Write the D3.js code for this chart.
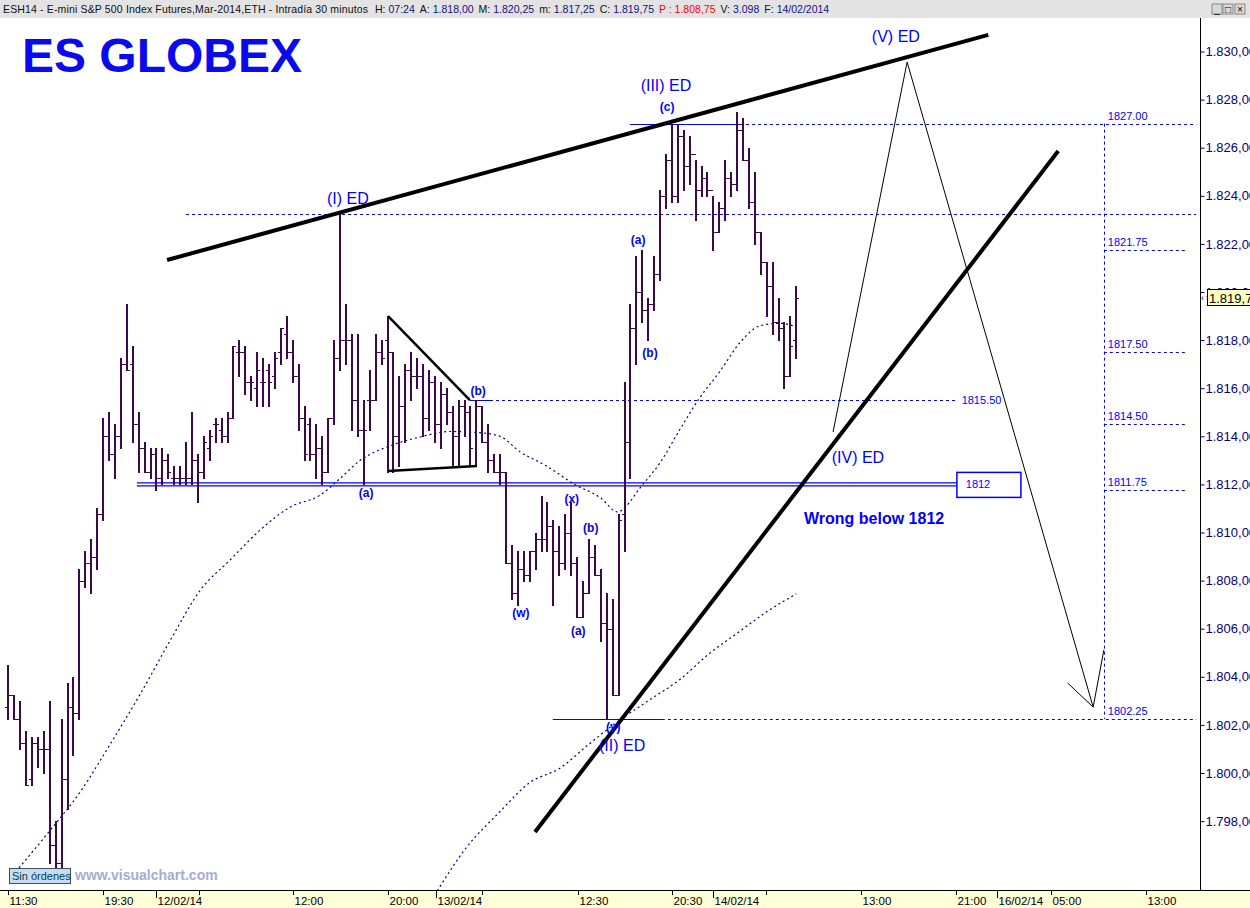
<!DOCTYPE html>
<html><head><meta charset="utf-8">
<script src="https://cdn.jsdelivr.net/npm/d3@7"></script>
<style>body{margin:0;background:#fff;overflow:hidden}svg{display:block}</style>
</head><body><svg id="c" width="1250" height="908"></svg>
<script>
// ---------- DATA ----------
const opens  = [1802.75,1803.25,1802.25,1801.25,1799.75,1801.25,1801.0,1801.0,1797.0,1796.25,1799.75,1802.75,1802.5,1808.0,1808.75,1809.0,1810.75,1814.0,1813.25,1814.0,1817.0,1817.0,1814.5,1813.5,1812.5,1813.25,1812.25,1813.0,1812.25,1812.25,1812.25,1812.25,1813.0,1812.5,1813.5,1814.5,1814.25,1814.0,1814.75,1817.5,1817.5,1816.25,1816.0,1816.25,1816.75,1816.5,1817.5,1818.25,1817.5,1816.5,1814.75,1814.5,1813.25,1813.5,1812.5,1814.75,1817.25,1818.0,1818.0,1815.5,1814.25,1815.5,1815.5,1817.5,1818.0,1817.5,1814.0,1815.25,1816.75,1816.5,1816.5,1814.75,1816.25,1814.5,1815.75,1815.0,1814.0,1815.25,1815.0,1815.5,1815.25,1813.75,1813.0,1812.5,1812.5,1808.75,1807.5,1808.5,1808.25,1809.25,1809.75,1809.75,1810.25,1809.25,1808.75,1810.0,1808.75,1806.5,1807.5,1809.0,1808.25,1806.25,1806.0,1803.25,1810.75,1813.75,1818.5,1820.0,1819.25,1819.5,1820.75,1824.0,1825.5,1824.0,1826.5,1825.25,1825.75,1824.25,1824.75,1824.25,1822.5,1823.5,1824.75,1824.5,1826.75,1825.5,1823.75,1822.5,1821.25,1820.25,1818.75,1818.5,1816.5,1818.0];
const highs  = [1804.5,1803.25,1803.0,1801.75,1801.5,1801.5,1801.75,1803.0,1798.0,1802.25,1803.75,1804.0,1808.5,1809.25,1809.75,1811.0,1814.75,1815.0,1814.5,1817.25,1819.5,1817.75,1815.0,1813.75,1813.5,1813.5,1813.5,1813.25,1812.75,1812.75,1813.75,1815.0,1813.25,1814.0,1814.25,1814.75,1814.75,1815.0,1817.75,1818.0,1817.75,1816.5,1817.5,1817.25,1817.0,1817.5,1818.5,1819.0,1818.0,1817.0,1815.25,1814.75,1814.5,1814.0,1814.75,1818.0,1823.25,1819.5,1818.25,1818.25,1815.5,1816.75,1818.25,1818.0,1819.0,1817.5,1816.5,1817.0,1817.5,1817.25,1817.0,1816.75,1816.5,1816.25,1816.0,1815.25,1815.5,1815.5,1815.25,1815.5,1815.25,1814.5,1813.25,1813.25,1812.5,1809.5,1809.25,1809.25,1809.25,1810.0,1811.5,1811.25,1810.5,1810.25,1810.75,1811.25,1809.0,1808.0,1809.75,1809.5,1808.5,1807.5,1807.25,1810.75,1816.25,1819.5,1821.5,1821.75,1819.75,1821.5,1824.25,1825.75,1827.0,1827.0,1826.75,1826.5,1825.5,1825.25,1825.0,1824.0,1823.75,1825.5,1825.0,1827.5,1827.25,1826.0,1825.0,1822.5,1821.25,1821.25,1819.75,1818.75,1819.0,1820.25];
const lows   = [1802.25,1802.25,1801.0,1799.5,1799.5,1800.25,1800.0,1796.25,1796.0,1796.0,1798.5,1800.75,1802.25,1807.75,1807.5,1808.5,1810.5,1813.0,1812.25,1813.5,1816.75,1813.75,1812.5,1812.5,1812.25,1811.75,1812.0,1812.25,1812.0,1812.0,1812.0,1812.0,1811.25,1812.25,1813.0,1813.75,1813.75,1813.75,1814.75,1816.5,1815.75,1815.5,1815.25,1815.25,1815.25,1816.0,1817.0,1817.25,1816.25,1814.25,1813.0,1813.0,1812.25,1812.0,1812.5,1814.5,1816.75,1817.0,1814.25,1814.0,1812.0,1814.25,1815.5,1817.0,1812.5,1812.5,1812.75,1813.75,1815.5,1816.0,1814.0,1814.25,1813.75,1813.5,1814.5,1812.75,1812.75,1814.0,1812.75,1812.75,1813.75,1812.5,1812.5,1812.0,1808.75,1807.25,1807.0,1808.0,1808.0,1808.5,1809.25,1809.25,1807.0,1808.25,1808.5,1808.25,1806.5,1806.5,1807.5,1808.25,1805.5,1802.25,1803.25,1803.25,1809.25,1812.25,1817.0,1818.75,1818.0,1819.25,1820.5,1823.5,1823.75,1823.75,1824.25,1824.5,1823.0,1824.0,1824.0,1821.75,1822.5,1823.0,1824.0,1824.25,1825.5,1823.5,1822.0,1820.75,1819.0,1818.25,1818.0,1816.0,1816.5,1817.25];
const closes = [1803.25,1802.25,1801.25,1799.5,1801.25,1801.0,1801.0,1797.0,1796.25,1799.75,1802.75,1802.5,1808.0,1808.75,1809.0,1810.75,1814.0,1813.25,1814.0,1817.0,1816.75,1814.5,1813.5,1812.5,1813.25,1812.25,1813.0,1812.5,1812.25,1812.25,1812.25,1813.0,1812.5,1813.75,1814.0,1814.5,1814.0,1814.75,1817.75,1817.5,1816.25,1816.25,1816.75,1816.25,1816.25,1817.25,1818.5,1817.5,1816.5,1814.75,1813.25,1813.25,1813.5,1812.5,1814.75,1817.25,1818.0,1818.0,1815.5,1814.25,1814.25,1815.5,1817.5,1817.25,1817.5,1814.0,1815.25,1816.75,1816.5,1816.5,1814.75,1816.25,1814.5,1815.75,1815.0,1814.0,1815.25,1815.0,1813.5,1815.25,1813.75,1813.0,1812.5,1812.5,1808.75,1807.5,1808.5,1808.25,1809.25,1809.75,1809.75,1810.25,1809.25,1808.75,1810.0,1808.75,1806.5,1807.5,1809.0,1808.25,1806.25,1806.0,1803.25,1810.5,1813.75,1818.5,1820.0,1819.25,1819.5,1820.75,1824.0,1825.5,1824.0,1826.5,1825.25,1825.75,1824.25,1824.75,1824.25,1822.5,1823.5,1824.75,1824.5,1826.75,1825.5,1823.75,1822.5,1821.25,1820.25,1818.75,1818.5,1816.5,1817.75,1819.75];

// moving averages: [bar index, price]
const maFast = [[1.8,1796.05],[7,1797.6],[12.1,1799.2],[17.2,1801.2],[22.2,1803.25],[27.3,1805.5],[32.4,1807.6],[37.4,1808.85],[42.5,1810.1],[47.5,1811.05],[52.6,1811.55],[56,1812.25],[59.4,1813.0],[64.4,1813.6],[69.5,1813.97],[74.5,1814.2],[79.6,1814.15],[83,1814.0],[86.4,1813.35],[90.6,1812.8],[95.6,1812.0],[99.9,1811.45],[102.9,1810.85],[104.1,1811.05],[106.6,1811.85],[110,1812.9],[113.5,1814.35],[116.7,1815.6],[120.1,1816.7],[123.5,1817.9],[126.9,1818.6],[130.2,1818.7],[133,1818.55]];
const maSlow = [[72.4,1795.1],[77,1796.8],[83,1798.4],[88,1799.6],[93.1,1800.2],[98,1801.2],[103.2,1802.2],[108,1803.0],[113.4,1803.9],[118,1804.9],[123.5,1805.9],[128,1806.7],[133,1807.45]];

const priceTicks = [1798,1800,1802,1804,1806,1808,1810,1812,1814,1816,1818,1820,1822,1824,1826,1828,1830];
const timeTicks = [[0,"11:30",0],[16,"19:30",0],[24.9,"12/02/14",1],[32.2,"",0],[48.05,"12:00",0],[64.1,"20:00",0],[72.2,"13/02/14",1],[80,"",0],[96.15,"12:30",0],[112,"20:30",0],[118.9,"14/02/14",1],[127.9,"",0],[143.9,"13:00",0],[159.9,"21:00",0],[166.9,"16/02/14",1],[176,"05:00",0],[192,"13:00",0]];

// drawn trend lines [bar index, price]
const upperWedge = [[26.8,1821.33],[165.4,1830.69]];
const lowerWedge = [[88.9,1797.55],[177.2,1825.86]];
const triUpper = [[64.1,1819.0],[77.9,1815.5]];
const triLower = [[64.1,1812.56],[79.1,1812.77]];
const projection = [[139.2,1814.18],[151.7,1829.56],[183.1,1802.74],[184.9,1805.11]];
const projArrow = [[178.8,1803.74],[183.1,1802.74]];

// horizontal levels: price, solid start, solid end, dashed end
const levelLines = [[1827.0,104.9,123.5,200.5],[1823.25,30,30,200.5],[1815.5,77.9,81.3,159.8],[1802.25,91.9,110.3,200.5]];
const sideLevels = [1827.0,1821.75,1817.5,1814.5,1811.75,1802.25];
const sideLabels = ["1827.00","1821.75","1817.50","1814.50","1811.75","1802.25"];

const waveLabels = [
 ["(I) ED",57.3,1823.66,16,"normal"],["(III) ED",111.0,1828.35,16,"normal"],["(V) ED",149.8,1830.4,16,"normal"],
 ["(IV) ED",143.4,1812.89,16,"normal"],["(II) ED",103.6,1800.91,16,"normal"],
 ["(a)",60.4,1811.48,12,"bold"],["(b)",79.3,1815.72,12,"bold"],["(w)",86.5,1806.49,12,"bold"],["(x)",95.1,1811.23,12,"bold"],
 ["(b)",98.3,1810.02,12,"bold"],["(a)",96.2,1805.74,12,"bold"],["(y)",102.1,1801.75,12,"bold"],["(a)",106.3,1822.0,12,"bold"],
 ["(b)",108.3,1817.3,12,"bold"],["(c)",111.2,1827.53,12,"bold"]];

// header pieces: text, colour, gap before
const headerParts = [["H:","#101010",0],["07:24","#10108a",3],
 ["A:","#101010",5],["1.818,00","#10108a",3],["M:","#101010",5],["1.820,25","#10108a",3],["m:","#101010",5],["1.817,25","#10108a",3],
 ["C:","#101010",5],["1.819,75","#10108a",3],["P : 1.808,75","#ff0000",5],["V:","#101010",5],["3.098","#10108a",3],["F:","#101010",5],["14/02/2014","#10108a",3]];

// ---------- SCALES ----------
const svg = d3.select("#c");
const FONT = "Liberation Sans, Arial, sans-serif";
const x = d3.scaleLinear().domain([0,200]).range([8.3,1193.3]);
const y = d3.scaleLinear().domain([1798,1830]).range([821.1,51.5]);
const PL=0, PR=1200, PT=18, PB=890;
const blue="#0000ff", navy="#000080", barCol="#3c0a4a";

svg.append("rect").attr("width",1250).attr("height",908).attr("fill","#fff");
svg.append("defs").append("clipPath").attr("id","plot").append("rect").attr("x",PL).attr("y",PT).attr("width",PR-PL).attr("height",PB-PT);
const g = svg.append("g").attr("clip-path","url(#plot)");

// moving averages
const lineGen = d3.line().x(d=>x(d[0])).y(d=>y(d[1])).curve(d3.curveMonotoneX);
[maFast,maSlow].forEach(ma=>g.append("path").attr("d",lineGen(ma)).attr("fill","none").attr("stroke",navy).attr("stroke-width",1.2).attr("stroke-dasharray","2,3"));

// level lines
levelLines.forEach(([p,s0,s1,e])=>{
  const yy = Math.round(y(p))+.5;
  if(s1>s0) g.append("line").attr("x1",x(s0)).attr("x2",x(s1)).attr("y1",yy).attr("y2",yy).attr("stroke",blue).attr("stroke-width",1);
  g.append("line").attr("x1",x(s1)).attr("x2",x(e)).attr("y1",yy).attr("y2",yy).attr("stroke",blue).attr("stroke-width",1).attr("stroke-dasharray","3,3");
});
const sx0 = 184.9, sx1 = 198.6;
g.append("line").attr("x1",Math.round(x(sx0))+.5).attr("x2",Math.round(x(sx0))+.5).attr("y1",y(1827)).attr("y2",y(1802.25)).attr("stroke",blue).attr("stroke-dasharray","3,3");
sideLevels.forEach((p,i)=>{
  const yy = Math.round(y(p))+.5;
  if(i>0 && i<5) g.append("line").attr("x1",x(sx0)).attr("x2",x(sx1)).attr("y1",yy).attr("y2",yy).attr("stroke",blue).attr("stroke-dasharray","3,3");
  g.append("text").attr("x",x(sx0)+4).attr("y",y(p)-4).text(sideLabels[i]).attr("fill",blue).attr("font-family",FONT).attr("font-size",11);
});
g.append("text").attr("x",x(160.9)).attr("y",y(1815.5)+4).text("1815.50").attr("fill",blue).attr("font-family",FONT).attr("font-size",11);

// 1812 double line + box
[-1.5,1.5].forEach(o=>g.append("line").attr("x1",x(21.7)).attr("x2",x(160.1)).attr("y1",y(1812)+o).attr("y2",y(1812)+o).attr("stroke",blue).attr("stroke-width",1.2));
g.append("rect").attr("x",x(160.1)).attr("y",y(1812)-12).attr("width",x(170.9)-x(160.1)).attr("height",25).attr("fill","none").attr("stroke",blue).attr("stroke-width",1.5);
g.append("text").attr("x",x(161.6)).attr("y",y(1812)+4).text("1812").attr("fill",blue).attr("font-family",FONT).attr("font-size",11);

// bars
const bars = g.append("g").attr("stroke",barCol);
opens.forEach((o,i)=>{
  const cx = Math.round(x(i));
  bars.append("line").attr("x1",cx).attr("x2",cx).attr("y1",Math.round(y(highs[i]))).attr("y2",Math.round(y(lows[i]))+1).attr("stroke-width",2);
  bars.append("line").attr("x1",cx-3).attr("x2",cx).attr("y1",Math.round(y(o))+.5).attr("y2",Math.round(y(o))+.5).attr("stroke-width",1);
  bars.append("line").attr("x1",cx).attr("x2",cx+3).attr("y1",Math.round(y(closes[i]))+.5).attr("y2",Math.round(y(closes[i]))+.5).attr("stroke-width",1);
});

// trend lines
const straight = d3.line().x(d=>x(d[0])).y(d=>y(d[1]));
[[upperWedge,4],[lowerWedge,4],[triUpper,2.5],[triLower,2.5],[projection,1],[projArrow,1]].forEach(([pts,w])=>
  g.append("path").attr("d",straight(pts)).attr("fill","none").attr("stroke","#000").attr("stroke-width",w));

// wave labels
waveLabels.forEach(([t,i,p,fs,fw])=>g.append("text").attr("x",x(i)).attr("y",y(p)).attr("text-anchor","middle").text(t)
  .attr("fill",blue).attr("font-family",FONT).attr("font-size",fs).attr("font-weight",fw));
g.append("text").attr("x",x(134.3)).attr("y",y(1810.35)).text("Wrong below 1812").attr("fill",blue).attr("font-family",FONT).attr("font-size",16).attr("font-weight","bold");

// title
svg.append("text").attr("x",22).attr("y",72).text("ES GLOBEX").attr("fill","#0a0aee").attr("font-family",FONT).attr("font-size",48).attr("font-weight","bold");

// header bar
svg.append("rect").attr("x",0).attr("y",0).attr("width",1250).attr("height",18).attr("fill","#e3e3e3");
svg.append("text").attr("x",3).attr("y",13).text("ESH14 - E-mini S&P 500 Index Futures,Mar-2014,ETH - Intradía 30 minutos")
  .attr("fill","#101010").attr("font-family",FONT).attr("font-size",10.5).attr("textLength",365).attr("lengthAdjust","spacing");
let hx = 375;
headerParts.forEach(([t,c,gap])=>{
  hx += gap;
  const el = svg.append("text").attr("x",hx).attr("y",13).text(t).attr("fill",c).attr("font-family",FONT).attr("font-size",10.5);
  hx += el.node().getComputedTextLength();
});
[[1212,"_"],[1223,"□"],[1235,"×"]].forEach(([bx,ch])=>{
  svg.append("rect").attr("x",bx).attr("y",4).attr("width",10).attr("height",10).attr("fill","#d8d8d8").attr("stroke","#888");
  svg.append("text").attr("x",bx+5).attr("y",12.5).attr("text-anchor","middle").text(ch).attr("font-family",FONT).attr("font-size",10).attr("fill","#000");
});

// right axis
svg.append("line").attr("x1",PR+.5).attr("x2",PR+.5).attr("y1",PT).attr("y2",PB).attr("stroke","#000");
const yAxis = d3.axisRight(y).tickValues(priceTicks).tickSize(4).tickFormat(d=>d3.format(",.2f")(d).replace(/,/g,"#").replace(".",",").replace("#","."));
const ya = svg.append("g").attr("transform",`translate(${PR+.5},0)`).call(yAxis);
ya.select(".domain").remove();
ya.selectAll("text").attr("fill",navy).attr("font-family",FONT).attr("font-size",13).attr("x",5);
ya.selectAll("line").attr("stroke",navy);
svg.append("rect").attr("x",1207.5).attr("y",y(1819.75)-8.5).attr("width",50).attr("height",16).attr("fill","#ffffc0").attr("stroke","#000");
svg.append("text").attr("x",1209).attr("y",y(1819.75)+4.5).text("1.819,75").attr("font-family",FONT).attr("font-size",13).attr("fill","#000");
svg.append("text").attr("x",1201).attr("y",y(1819.75)+3).text("‹").attr("font-family",FONT).attr("font-size",9).attr("fill","#000");

// bottom axis
svg.append("rect").attr("x",0).attr("y",PB).attr("width",1250).attr("height",908-PB).attr("fill","#ffffd8");
svg.append("line").attr("x1",0).attr("x2",1250).attr("y1",PB+.5).attr("y2",PB+.5).attr("stroke","#000");
timeTicks.forEach(([i,lab,maj])=>{
  const tx = Math.round(x(i))+.5;
  svg.append("line").attr("x1",tx).attr("x2",tx).attr("y1",PB).attr("y2",PB+(maj?8:5)).attr("stroke","#000");
  if(lab) svg.append("text").attr("x",tx+1).attr("y",905).text(lab).attr("font-family",FONT).attr("font-size",11.5).attr("fill","#000");
});

// footer
svg.append("rect").attr("x",9.5).attr("y",868.5).attr("width",61).attr("height",15).attr("fill","#c6dcf0").attr("stroke","#405060");
svg.append("text").attr("x",12).attr("y",880).text("Sin órdenes").attr("font-family",FONT).attr("font-size",11).attr("fill","#004050");
svg.append("text").attr("x",75).attr("y",880).text("www.visualchart.com").attr("font-family",FONT).attr("font-size",14).attr("font-weight","bold").attr("fill","#a8acd0");
</script></body></html>
